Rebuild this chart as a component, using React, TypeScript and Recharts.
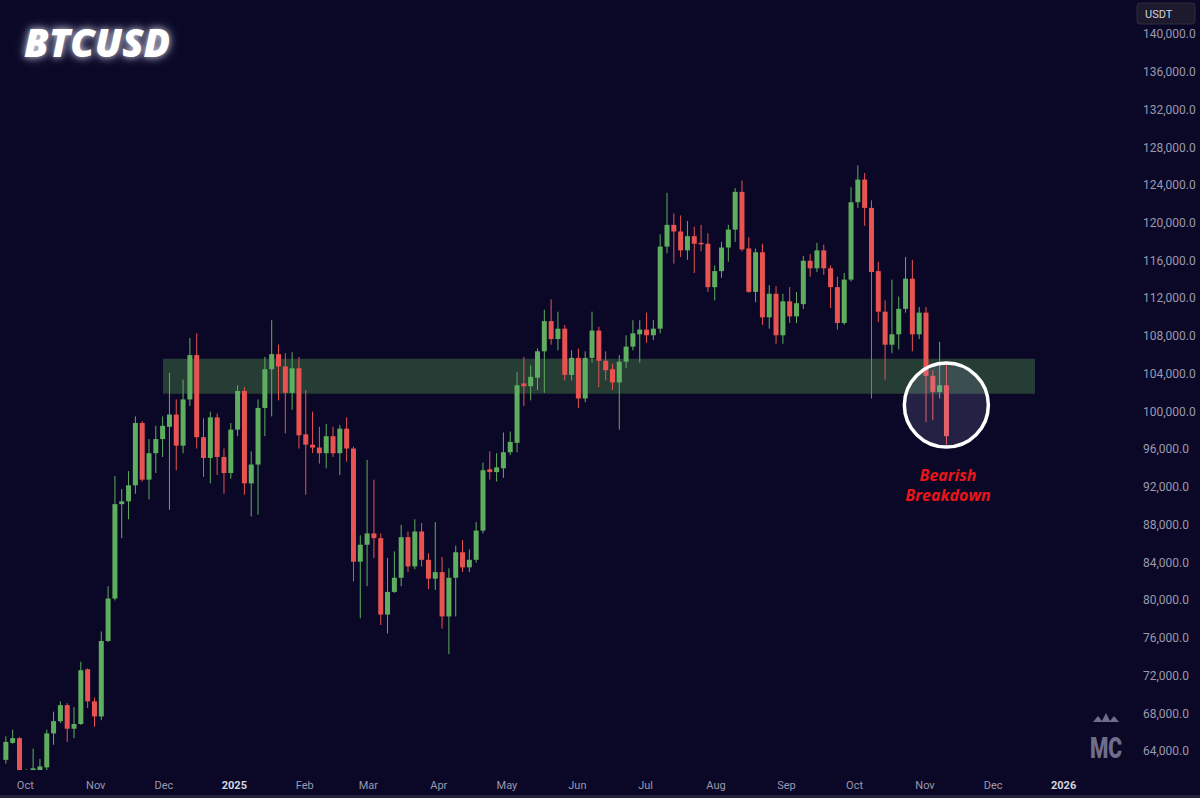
import React from 'react';
import { ComposedChart, Bar, XAxis, YAxis, ReferenceArea, ReferenceDot } from 'recharts';

// 3-day candles, time in days from 1 Oct 2024
const FIRST_CANDLE_DAY = -8.6;
const CANDLE_DAYS = 3;

const opens = [
  63100, 64900, 65400, 61800, 62000, 61900, 62300, 65900, 67200, 68900,
  66400, 66900, 72700, 69300, 67700, 75700, 80200, 90200, 90500, 92200,
  98800, 92800, 95600, 97100, 98400, 99700, 96400, 101300, 106000, 97300,
  95100, 99400, 95200, 93500, 98100, 102200, 92400, 94400, 100400, 104500,
  106100, 104800, 102000, 104600, 97600, 96500, 96200, 95600, 97400, 95600,
  98200, 96100, 84100, 85900, 87100, 86600, 78500, 80900, 82400, 86700,
  83600, 87300, 84300, 82300, 83000, 78300, 82400, 85100, 83500, 84300,
  87400, 93900, 93600, 94000, 95700, 96700, 103000, 102700, 103600, 106400,
  109600, 107700, 108800, 103900, 105700, 101400, 105700, 108600, 105400, 104500,
  103100, 105300, 106900, 108200, 108700, 108100, 108800, 117500, 119800, 119100,
  117100, 118600, 117900, 117800, 113200, 114900, 117400, 119300, 123300, 117300,
  112700, 116900, 110000, 112500, 108100, 111700, 110100, 111400, 116000, 115200,
  117100, 115200, 113200, 109400, 114000, 122200, 124600, 121600, 114900, 110600,
  107100, 108200, 110900, 114100, 108200, 110500, 103800, 102100, 102800,
];

const highs = [
  65600, 66300, 65500, 62100, 64300, 63200, 66300, 68200, 69300, 69100,
  68700, 73500, 72800, 69700, 76700, 81500, 93200, 91800, 93700, 99500,
  99000, 97100, 98500, 99500, 104100, 101300, 103400, 107800, 108300, 99300,
  100000, 99800, 96100, 98800, 102800, 102600, 95800, 101300, 105800, 109700,
  107100, 106200, 106300, 105800, 102300, 100000, 98400, 98700, 98400, 98600,
  99400, 96300, 86900, 94900, 92800, 87100, 84500, 85200, 88000, 87300,
  88600, 88200, 85000, 88300, 84600, 83400, 85800, 86400, 85400, 88300,
  94600, 95800, 95600, 97800, 97900, 104200, 105800, 104900, 106700, 110800,
  111900, 110600, 109200, 106500, 106700, 106400, 110600, 109000, 106400, 105100,
  106000, 108100, 109700, 109700, 110500, 109700, 118800, 123200, 121000, 120800,
  120200, 119600, 119800, 118900, 115500, 118000, 119800, 123700, 124500, 118500,
  117300, 117800, 113400, 113300, 112500, 113200, 112700, 116500, 116700, 117900,
  117700, 115500, 114300, 114700, 123800, 126100, 125300, 122400, 115900, 111800,
  114000, 112200, 116400, 116100, 111100, 111100, 104400, 107400, 105300,
];

const lows = [
  62700, 64800, 61700, 61600, 61900, 61500, 61600, 64700, 67000, 65000,
  65400, 66800, 68600, 66600, 67300, 75600, 80000, 86600, 88600, 91300,
  92600, 90700, 93500, 95200, 89600, 93800, 95600, 100600, 96100, 93100,
  92400, 93300, 91300, 92900, 97400, 91200, 88900, 89100, 97400, 99500,
  101200, 97700, 100200, 96100, 91200, 95600, 94500, 94000, 95200, 93300,
  94700, 82000, 78100, 81500, 84500, 77400, 76500, 80800, 81500, 83000,
  83300, 83600, 81200, 81100, 77000, 74300, 78300, 83000, 83000, 84000,
  87100, 92800, 92600, 93000, 95400, 95700, 100600, 101200, 102300, 102000,
  107100, 106500, 103300, 103300, 100400, 101000, 105200, 102600, 103300, 102300,
  98100, 104600, 106500, 105200, 107300, 107600, 108300, 116800, 115700, 116400,
  116100, 114700, 117000, 112700, 111800, 114200, 115900, 118000, 117000, 112600,
  111600, 109200, 108800, 107200, 107200, 109400, 109400, 110900, 114300, 114800,
  114500, 111000, 108700, 109200, 113800, 121600, 119700, 101400, 109500, 103400,
  106200, 106600, 110500, 106400, 107700, 98900, 99100, 101400, 96500,
];

const closes = [
  65000, 65400, 61800, 61900, 62200, 62400, 65900, 67200, 68900, 66400,
  66900, 72600, 69300, 67700, 75700, 80200, 90200, 90500, 92200, 98800,
  92800, 95600, 97100, 98500, 99700, 96400, 101300, 106000, 97300, 95100,
  99400, 95200, 93500, 98100, 102200, 92400, 94400, 100400, 104500, 106100,
  104800, 102000, 104600, 97500, 96500, 96200, 95600, 97400, 95600, 98200,
  96100, 84100, 85900, 87100, 86600, 78500, 80900, 82400, 86700, 83600,
  87300, 84300, 82300, 83000, 78300, 82400, 85100, 83500, 84300, 87400,
  93800, 93600, 94100, 95700, 96800, 102800, 102700, 103700, 106400, 109600,
  107700, 108800, 103900, 105700, 101400, 105700, 108600, 105400, 104400, 103100,
  105300, 106900, 108300, 108700, 108100, 108800, 117500, 119800, 119100, 117100,
  118600, 117800, 117800, 113200, 114900, 117400, 119300, 123300, 117200, 112700,
  116900, 110000, 112500, 108100, 111700, 110100, 111500, 116000, 115200, 117100,
  115200, 113200, 109400, 114000, 122200, 124600, 121600, 114800, 110600, 107100,
  108200, 110900, 114100, 108200, 110500, 103800, 102100, 102800, 97400,
];

const monthDays = [0, 31, 61, 92, 123, 151, 182, 212, 243, 273, 304, 335, 365, 396, 426, 457];
const monthLabels = ['Oct', 'Nov', 'Dec', '2025', 'Feb', 'Mar', 'Apr', 'May', 'Jun', 'Jul', 'Aug', 'Sep', 'Oct', 'Nov', 'Dec', '2026'];
const priceTicks = [64000, 68000, 72000, 76000, 80000, 84000, 88000, 92000, 96000, 100000, 104000, 108000, 112000, 116000, 120000, 124000, 128000, 132000, 136000, 140000];

// support zone
const zoneLow = 101900;
const zoneHigh = 105600;
const zoneStartDay = 60.6;
const zoneEndDay = 444.4;
const breakdownPrice = 100700;

const BG = '#0a0826';
const UP = '#5fae5f';
const DOWN = '#e85352';
const AXIS_TEXT = '#9b99b0';

const data = opens.map((open, i) => ({
  t: FIRST_CANDLE_DAY + i * CANDLE_DAYS,
  open,
  high: highs[i],
  low: lows[i],
  close: closes[i],
  range: [lows[i], highs[i]],
}));
const lastDay = data[data.length - 1].t;

function Candle(props: any) {
  const { x, y, width, height, payload } = props;
  if (!payload) return null;
  const { open, close, high, low } = payload;
  const color = close >= open ? UP : DOWN;
  const h = Math.abs(height);
  const top = height >= 0 ? y : y + height;
  const ratio = high > low ? h / (high - low) : 0;
  const yOf = (v: number) => top + (high - v) * ratio;
  const bodyTop = yOf(Math.max(open, close));
  const bodyBottom = yOf(Math.min(open, close));
  const cx = x + width / 2;
  return (
    <g>
      <line x1={cx} x2={cx} y1={top} y2={top + h} stroke={color} strokeWidth={1} />
      <rect x={x} y={bodyTop} width={width} height={Math.max(1.5, bodyBottom - bodyTop)} fill={color} />
    </g>
  );
}

function MonthTick(props: any) {
  const { x, y, payload } = props;
  const idx = monthDays.indexOf(payload.value);
  const label = monthLabels[idx] ?? '';
  const isYear = /^\d{4}$/.test(label);
  return (
    <text x={x} y={y} dy={19} textAnchor="middle" fontFamily="Roboto" fontSize={11}
      fontWeight={isYear ? 700 : 400} fill={isYear ? '#d6d5e2' : AXIS_TEXT}>
      {label}
    </text>
  );
}

function PriceTick(props: any) {
  const { x, y, payload } = props;
  return (
    <text x={x} y={y} dy={4} textAnchor="start" fontFamily="Roboto" fontSize={12} fill={AXIS_TEXT}>
      {Number(payload.value).toLocaleString('en-US', { minimumFractionDigits: 1, maximumFractionDigits: 1 })}
    </text>
  );
}

export default function App() {
  return (
    <div style={{ position: 'absolute', left: 0, top: 0, width: 1200, height: 798, background: BG, overflow: 'hidden' }}>
      <ComposedChart width={1200} height={798} data={data} margin={{ top: 0, right: 0, bottom: 0, left: 0 }}>
        <XAxis type="number" dataKey="t" domain={[-11.14, 488.43]} ticks={monthDays} allowDataOverflow
          axisLine={false} tickLine={false} tickSize={0} tickMargin={0} height={28} tick={<MonthTick />} interval={0} />
        <YAxis type="number" orientation="right" domain={[62024, 143635]} ticks={priceTicks} allowDataOverflow
          axisLine={false} tickLine={false} tickSize={0} tickMargin={8} width={65} tick={<PriceTick />} interval={0} />
        <ReferenceArea x1={zoneStartDay} x2={zoneEndDay} y1={zoneLow} y2={zoneHigh}
          fill="#5aa050" fillOpacity={0.35} stroke="none" />
        <Bar dataKey="range" barSize={5} shape={<Candle />} isAnimationActive={false} />
        <ReferenceDot x={lastDay} y={breakdownPrice} r={42} fill="rgba(200,190,255,0.14)"
          stroke="#ffffff" strokeWidth={3.5} />
      </ComposedChart>

      <div style={{
        position: 'absolute', left: 24, top: 17, fontFamily: '"Open Sans"', fontStyle: 'italic',
        fontWeight: 800, fontSize: 39, color: '#ffffff', lineHeight: '50px',
        textShadow: '0 0 7px rgba(255,255,255,0.75), 0 0 14px rgba(200,200,255,0.45)',
      }}>BTCUSD</div>

      <svg width={1200} height={798} style={{ position: 'absolute', left: 0, top: 0, pointerEvents: 'none' }}>
        <text x={948} y={481} textAnchor="middle" fontFamily='"Open Sans"' fontStyle="italic" fontWeight={700}
          fontSize={16} fill="#e8161b">Bearish</text>
        <text x={948} y={501} textAnchor="middle" fontFamily='"Open Sans"' fontStyle="italic" fontWeight={700}
          fontSize={16} fill="#e8161b">Breakdown</text>

        <rect x={1137} y={3} width={58} height={21} rx={3} fill="#1c1a2c" stroke="#2f2d40" />
        <text x={1145} y={18} fontFamily="Roboto" fontSize={11} fill="#d4d3de">USDT</text>

        <path d="M1093,722 L1098,716 L1102,721 L1106,713 L1110,721 L1114,716 L1119,722 Z" fill="#6f6d8c" />
        <text x={1106} y={758} textAnchor="middle" fontFamily="Roboto" fontWeight={900} fontSize={30}
          fill="#6f6d8c" transform="translate(1106 742) scale(0.7 1) translate(-1106 -742)">MC</text>

        <rect x={0} y={795} width={1200} height={3} fill="#24223a" />
      </svg>
    </div>
  );
}
